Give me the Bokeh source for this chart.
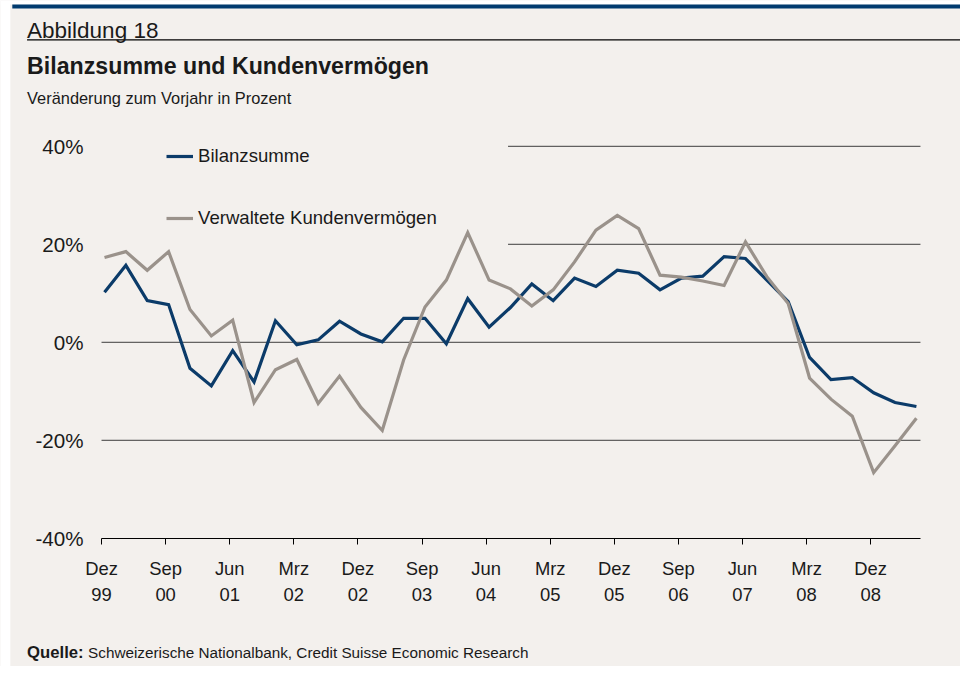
from bokeh.plotting import figure
from bokeh.models import (Range1d, FixedTicker, PrintfTickFormatter, Label, BoxAnnotation,
                          Legend, LegendItem, ColumnDataSource)
from bokeh.embed import file_html
from bokeh.resources import INLINE

# ---------------- data (quarterly, Dez 99 .. Jun 09) ----------------
bilanzsumme = [10.2, 15.7, 8.5, 7.7, -5.3, -8.9, -1.7, -8.1, 4.4, -0.5, 0.5, 4.3, 1.7,
               0.1, 4.9, 4.9, -0.3, 8.9, 3.1, 7.1, 11.9, 8.5, 13.1, 11.4, 14.7, 14.1,
               10.7, 13.1, 13.5, 17.5, 17.1, 12.7, 8.3, -3.1, -7.6, -7.2, -10.3, -12.3, -13.1]
kundenvermoegen = [17.3, 18.5, 14.7, 18.5, 6.7, 1.3, 4.5, -12.3, -5.6, -3.5, -12.5, -6.9, -13.3,
                   -18.0, -3.6, 7.2, 12.7, 22.4, 12.7, 10.9, 7.4, 10.7, 16.4, 22.9, 25.9, 23.2,
                   13.7, 13.3, 12.5, 11.6, 20.5, 13.4, 7.9, -7.3, -11.6, -15.1, -26.6, -21.1, -15.5]
tick_labels = ["Dez\n99", "Sep\n00", "Jun\n01", "Mrz\n02", "Dez\n02", "Sep\n03", "Jun\n04",
               "Mrz\n05", "Dez\n05", "Sep\n06", "Jun\n07", "Mrz\n08", "Dez\n08"]
y_ticks = [-40, -20, 0, 20, 40]
series_names = ["Bilanzsumme", "Verwaltete Kundenvermögen"]

# ---------------- style / layout ----------------
BG = "#f3f0ed"
NAVY = "#003a6e"
BLUE = "#0b3b69"
GRAY = "#9a928b"
TXT = "#1a1a1a"
FONT = "Liberation Sans"

W, H = 960, 666
REF_W, REF_H = 976, 682
FX, FY = W / REF_W, H / REF_H


def fx(v):      # reference pixel -> canvas pixel (horizontal)
    return v * FX


def fy(v):      # reference pixel -> canvas pixel (vertical)
    return v * FY


def fs(v):
    return f"{v * (FX + FY) / 2:.1f}px"


# chart area inside the canvas (pixels)
CL, CR, CT, CB = fx(102.7), fx(935.3), fy(149.3), fy(550.7)
X0, X1 = 0.0, 38.33          # data x at CL / CR
Y0, Y1 = -40, 40             # data y at CB / CT
OFFSET = 0.14
TICK_STEP = 3

kx = (X1 - X0) / (CR - CL)
ky = (Y1 - Y0) / (CB - CT)


def sx(px):
    return X0 + (px - CL) * kx


def sy(py):
    return Y1 - (py - CT) * ky


p = figure(width=W, height=H, output_backend="svg", toolbar_location=None,
           x_range=Range1d(sx(0), sx(W)), y_range=Range1d(sy(H), sy(0)),
           min_border_left=0, min_border_top=0, min_border_right=0, min_border_bottom=0)
p.title.visible = False
p.background_fill_color = BG
p.border_fill_color = BG
p.outline_line_color = None
p.xgrid.visible = False
p.ygrid.visible = False

# grid lines (upper two are interrupted by the legend block)
legend_right = sx(fx(516))
grid_src = ColumnDataSource(dict(
    x0=[X0 if t <= 0 else legend_right for t in y_ticks[1:]],
    x1=[X1] * (len(y_ticks) - 1),
    y=y_ticks[1:]))
p.segment(x0="x0", x1="x1", y0="y", y1="y", source=grid_src,
          line_color="#3c3c3c", line_width=1, level="underlay")

xs = [i + OFFSET for i in range(len(bilanzsumme))]
r1 = p.line(xs, bilanzsumme, line_color=BLUE, line_width=3.2, line_join="miter")
r2 = p.line(xs, kundenvermoegen, line_color=GRAY, line_width=3.2, line_join="miter")

# axes drawn at fixed locations inside the canvas
xa = p.xaxis[0]
xa.fixed_location = Y0
xa.bounds = (X0, X1)
xa.ticker = FixedTicker(ticks=[k * TICK_STEP for k in range(len(tick_labels))])
xa.major_label_overrides = {k * TICK_STEP: lab for k, lab in enumerate(tick_labels)}
xa.minor_tick_line_color = None
xa.axis_line_color = "black"
xa.major_tick_line_color = "black"
xa.major_tick_out = 6
xa.major_tick_in = 0
xa.major_label_standoff = 14
xa.major_label_text_font = FONT
xa.major_label_text_font_size = fs(18.8)
xa.major_label_text_color = TXT
xa.major_label_text_line_height = 1.22

ya = p.yaxis[0]
ya.fixed_location = X0
ya.bounds = (Y0, Y1)
ya.ticker = FixedTicker(ticks=y_ticks)
ya.formatter = PrintfTickFormatter(format="%d%%")
ya.axis_line_color = None
ya.major_tick_line_color = None
ya.minor_tick_line_color = None
ya.major_tick_out = 0
ya.major_label_standoff = 18
ya.major_label_text_font = FONT
ya.major_label_text_font_size = fs(21)
ya.major_label_text_color = TXT

# legend: items centred at ref y 159.3 / 223.3, glyph starting at ref x 169
item_h = 24
spacing = int(round(fy(223.3) - fy(159.3) - item_h))
leg_bottom = fy(159.3) - item_h / 2 + 2 * item_h + spacing
legend = Legend(items=[LegendItem(label=series_names[0], renderers=[r1]),
                       LegendItem(label=series_names[1], renderers=[r2])],
                location=(round(fx(169)), round(H - leg_bottom)), margin=0, padding=0,
                spacing=spacing, glyph_width=27, glyph_height=item_h, label_height=item_h,
                label_standoff=5, background_fill_alpha=0, border_line_color=None,
                label_text_font=FONT, label_text_font_size=fs(19),
                label_text_color=TXT)
p.add_layout(legend, "center")

# header / footer decorations
p.add_layout(BoxAnnotation(left=sx(0), right=sx(W), top=sy(0), bottom=sy(fy(4)),
                           fill_color="white", fill_alpha=1, line_alpha=0))
p.add_layout(BoxAnnotation(left=sx(0), right=sx(fx(10)), top=sy(0), bottom=sy(H),
                           fill_color="white", fill_alpha=1, line_alpha=0))
p.add_layout(BoxAnnotation(left=sx(fx(12)), right=sx(W), top=sy(fy(4)), bottom=sy(fy(8.3)),
                           fill_color=NAVY, fill_alpha=1, line_alpha=0))
p.add_layout(BoxAnnotation(left=sx(fx(27)), right=sx(W), top=sy(fy(39.6)), bottom=sy(fy(41.0)),
                           fill_color="black", fill_alpha=1, line_alpha=0))

texts = [
    ("Abbildung 18", 27, 30.8, 23, "normal"),
    ("Bilanzsumme und Kundenvermögen", 27, 66.7, 23.7, "bold"),
    ("Veränderung zum Vorjahr in Prozent", 27, 100, 16.7, "normal"),
    ("Quelle:", 27, 667.5, 17, "bold"),
    ("Schweizerische Nationalbank, Credit Suisse Economic Research", 89, 667.5, 15.6, "normal"),
]
for t, px, py, size, weight in texts:
    p.add_layout(Label(x=sx(fx(px)), y=sy(fy(py)), text=t, text_font=FONT,
                       text_font_size=fs(size), text_font_style=weight, text_color=TXT,
                       text_baseline="alphabetic", text_align="left"))

open("out.html", "w").write(file_html(p, INLINE))
